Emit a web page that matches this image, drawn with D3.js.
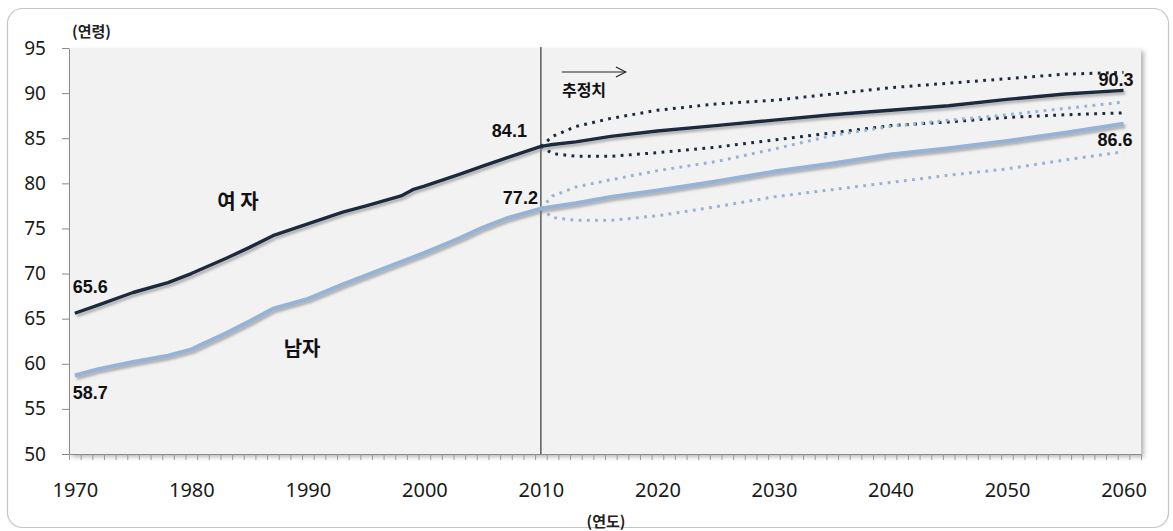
<!DOCTYPE html>
<html><head><meta charset="utf-8">
<script src="https://cdn.jsdelivr.net/npm/d3@7"></script>
<style>body{margin:0;background:#fff} svg{display:block}</style>
</head><body>
<svg id="chart" width="1173" height="531"></svg>
<script>
// ---- data ----
const histYears  = [1970,1972,1975,1978,1980,1983,1985,1987,1990,1993,1995,1998,1999,2000,2003,2005,2007,2010];
const femaleHist = [65.6,66.5,67.9,69.0,70.0,71.7,72.9,74.2,75.5,76.8,77.5,78.6,79.3,79.7,81.0,81.9,82.8,84.1];
const maleHist   = [58.7,59.4,60.2,60.9,61.6,63.4,64.7,66.1,67.2,68.8,69.8,71.3,71.8,72.3,73.9,75.1,76.1,77.2];

const projYears  = [2010,2011,2013,2016,2020,2025,2030,2035,2040,2045,2050,2055,2060];
const femaleMid  = [84.1,84.3,84.6,85.2,85.8,86.4,87.0,87.6,88.1,88.6,89.3,89.9,90.3];
const femaleHigh = [84.1,85.2,86.3,87.2,88.1,88.8,89.2,89.9,90.6,91.1,91.6,92.1,92.3];
const femaleLow  = [84.1,83.3,83.0,83.0,83.4,84.0,84.8,85.6,86.4,86.8,87.3,87.6,87.8];
const maleMid    = [77.2,77.4,77.8,78.5,79.2,80.2,81.3,82.2,83.2,83.9,84.7,85.6,86.6];
const maleHigh   = [77.2,78.6,79.6,80.4,81.4,82.4,83.8,85.3,86.3,87.0,87.6,88.3,89.0];
const maleLow    = [77.2,76.2,75.9,75.9,76.4,77.4,78.5,79.3,80.1,80.9,81.6,82.6,83.5];

const yTicks = [50,55,60,65,70,75,80,85,90,95];
const xTicks = [1970,1980,1990,2000,2010,2020,2030,2040,2050,2060];
const seriesNames = ["여 자","남자"];
const projectionLabel = "추정치";
const yTitle = "(연령)", xTitle = "(연도)";

// ---- drawing ----
const svg = d3.select("#chart");
const x = d3.scaleLinear().domain([1969.5, 2061.5]).range([69, 1141]);
const y = d3.scaleLinear().domain([50, 95]).range([454, 48]);

const defs = svg.append("defs");
const sh = defs.append("filter").attr("id","sh").attr("x","-5%").attr("y","-5%").attr("width","115%").attr("height","130%");
sh.append("feDropShadow").attr("dx",2).attr("dy",2.5).attr("stdDeviation",1.2).attr("flood-color","#777").attr("flood-opacity",0.55);
const psh = defs.append("filter").attr("id","psh").attr("x","-2%").attr("y","-2%").attr("width","105%").attr("height","106%");
psh.append("feDropShadow").attr("dx",3).attr("dy",3).attr("stdDeviation",2).attr("flood-color","#888").attr("flood-opacity",0.6);
defs.append("marker").attr("id","arr").attr("viewBox","0 0 12 12").attr("refX",11).attr("refY",6)
  .attr("markerWidth",12).attr("markerHeight",12).attr("markerUnits","userSpaceOnUse").attr("orient","auto")
  .append("path").attr("d","M1,1 L11,6 L1,11").attr("fill","none").attr("stroke","#222").attr("stroke-width",1.1);

// outer rounded frame
svg.append("rect").attr("x",7.5).attr("y",8.5).attr("width",1161).attr("height",519).attr("rx",15)
  .attr("fill","#fff").attr("stroke","#c4c4c4").attr("stroke-width",1.2);

// plot background
svg.append("rect").attr("x",x.range()[0]).attr("y",y(95)).attr("width",x.range()[1]-x.range()[0]).attr("height",y(50)-y(95))
  .attr("fill","#f2f2f2").attr("filter","url(#psh)");

// y axis
const yAxis = svg.append("g").attr("transform",`translate(${x.range()[0]},0)`)
  .call(d3.axisLeft(y).tickValues(yTicks).tickSize(7).tickPadding(16).tickSizeOuter(0));
yAxis.select(".domain").attr("stroke","#8a8a8a");
yAxis.selectAll(".tick line").attr("stroke","#8a8a8a");
yAxis.selectAll("text").attr("font-family","'Noto Sans',sans-serif").attr("font-size",19).attr("fill","#1a1a1a");

// x axis minor ticks (category boundaries)
const bounds = d3.range(1969.5, 2062, 1);
const xAxisMinor = svg.append("g").attr("transform",`translate(0,${y(50)})`)
  .call(d3.axisBottom(x).tickValues(bounds).tickSize(6).tickFormat("").tickSizeOuter(0));
xAxisMinor.select(".domain").attr("stroke","#8a8a8a");
xAxisMinor.selectAll(".tick line").attr("stroke","#9a9a9a");
// x axis labels
const xAxisLab = svg.append("g").attr("transform",`translate(0,${y(50)})`)
  .call(d3.axisBottom(x).tickValues(xTicks).tickSize(0).tickPadding(29).tickFormat(d3.format("d")));
xAxisLab.select(".domain").remove();
xAxisLab.selectAll("text").attr("font-family","'Noto Sans',sans-serif").attr("font-size",20).attr("fill","#1a1a1a");

// 2010 divider
svg.append("line").attr("x1",x(2010)).attr("x2",x(2010)).attr("y1",y(95)-1).attr("y2",y(50))
  .attr("stroke","#111").attr("stroke-width",1);

const line = d3.line().x(d=>x(d[0])).y(d=>y(d[1]));
const zipS = (ys, vs) => ys.map((yr,i)=>[yr, vs[i]]);

const femaleAll = zipS(histYears, femaleHist).concat(zipS(projYears, femaleMid).slice(1));
const maleAll   = zipS(histYears, maleHist).concat(zipS(projYears, maleMid).slice(1));

const cF = "#1b2a40", cM = "#95b3d7";

// dotted projection bands
[[femaleHigh,cF],[femaleLow,cF],[maleHigh,cM],[maleLow,cM]].forEach(([vals,c])=>{
  svg.append("path").attr("d", line(zipS(projYears, vals)))
    .attr("fill","none").attr("stroke",c).attr("stroke-width",3).attr("stroke-dasharray","2.8 5.4");
});

// solid lines
svg.append("path").attr("d", line(maleAll)).attr("fill","none").attr("stroke",cM)
  .attr("stroke-width",4).attr("stroke-linejoin","round").attr("filter","url(#sh)");
svg.append("path").attr("d", line(femaleAll)).attr("fill","none").attr("stroke",cF)
  .attr("stroke-width",3.4).attr("stroke-linejoin","round").attr("filter","url(#sh)");

// value labels
const lab = (txt, px, py, anchor, size) => svg.append("text").attr("x",px).attr("y",py).attr("text-anchor",anchor)
  .attr("font-family","'Liberation Sans',Arial,sans-serif").attr("font-weight","bold").attr("font-size",size||18).attr("fill","#111").text(txt);
lab(femaleHist[0].toFixed(1), x(1970)-2, y(femaleHist[0])-20, "start");
lab(maleHist[0].toFixed(1),   x(1970)-2, y(maleHist[0])+23, "start");
lab(femaleHist[femaleHist.length-1].toFixed(1), x(2010)-14, y(femaleHist[femaleHist.length-1])-9, "end");
lab(maleHist[maleHist.length-1].toFixed(1),     x(2010)-3,  y(maleHist[maleHist.length-1])-5, "end");
lab(femaleMid[femaleMid.length-1].toFixed(1), x(2060)-25, y(femaleMid[femaleMid.length-1])-4, "start");
lab(maleMid[maleMid.length-1].toFixed(1),     x(2060)-26, y(maleMid[maleMid.length-1])+22, "start");

// series names
const kfont = "'Noto Sans CJK KR','Noto Sans',sans-serif";
svg.append("text").attr("x",x(1984)).attr("y",y(77.2)).attr("text-anchor","middle").attr("font-family",kfont)
  .attr("font-weight","bold").attr("font-size",20).attr("fill","#111").text(seriesNames[0]);
svg.append("text").attr("x",x(1989.5)).attr("y",y(60.9)).attr("text-anchor","middle").attr("font-family",kfont)
  .attr("font-weight","bold").attr("font-size",20).attr("fill","#111").text(seriesNames[1]);

// projection annotation
svg.append("line").attr("x1",x(2010)+21).attr("x2",x(2010)+85).attr("y1",72).attr("y2",72)
  .attr("stroke","#222").attr("stroke-width",1.1).attr("marker-end","url(#arr)");
svg.append("text").attr("x",x(2010)+21).attr("y",96).attr("font-family",kfont).attr("font-weight","bold")
  .attr("font-size",16).attr("fill","#111").text(projectionLabel);

// axis titles
svg.append("text").attr("x",72).attr("y",37).attr("font-family",kfont).attr("font-weight","bold")
  .attr("font-size",15).attr("fill","#222").text(yTitle);
svg.append("text").attr("x",606).attr("y",527).attr("text-anchor","middle").attr("font-family",kfont).attr("font-weight","bold")
  .attr("font-size",15).attr("fill","#222").text(xTitle);
</script>
</body></html>
